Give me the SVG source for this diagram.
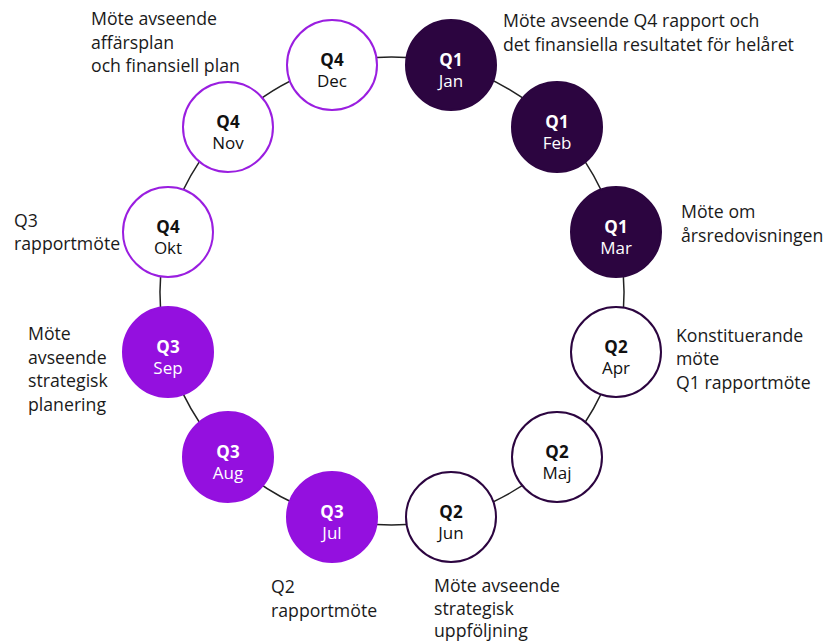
<svg xmlns="http://www.w3.org/2000/svg" width="825" height="642" viewBox="0 0 825 642">
<style>
.ring{fill:none;stroke:#222;stroke-width:1.5}
.dark{fill:#2c0540;stroke:#2c0540;stroke-width:2}
.bright{fill:#9410df;stroke:#9410df;stroke-width:2}
.q2{fill:#fff;stroke:#2c0540;stroke-width:2}
.q4{fill:#fff;stroke:#9a1ee0;stroke-width:2}
text{font-family:"Open Sans",Lato,"Liberation Sans",sans-serif;font-size:17px}
.q{font-weight:bold;text-anchor:middle}
.m{text-anchor:middle}
.w{fill:#fff}
.k{fill:#111}
.lbl{fill:#1a1a1a;font-size:17.7px}
</style>
<g id="connectors">
<path class="ring" d="M332 65 A232 232 0 0 1 451 65"/>
<path class="ring" d="M451 65 A232 232 0 0 1 557 127"/>
<path class="ring" d="M557 127 A232 232 0 0 1 616 232"/>
<path class="ring" d="M616 232 A232 232 0 0 1 616 352"/>
<path class="ring" d="M616 352 A232 232 0 0 1 557 457"/>
<path class="ring" d="M557 457 A232 232 0 0 1 451 517"/>
<path class="ring" d="M451 517 A232 232 0 0 1 332 517"/>
<path class="ring" d="M332 517 A232 232 0 0 1 228 457"/>
<path class="ring" d="M228 457 A232 232 0 0 1 168 352"/>
<path class="ring" d="M168 352 A232 232 0 0 1 168 232"/>
<path class="ring" d="M168 232 A232 232 0 0 1 228 127"/>
<path class="ring" d="M228 127 A232 232 0 0 1 332 65"/>
</g>
<g id="jan"><circle class="dark" cx="451" cy="65" r="45"/><text class="q w" x="451" y="66">Q1</text><text class="m w" x="451" y="87">Jan</text></g>
<g id="feb"><circle class="dark" cx="557" cy="127" r="45"/><text class="q w" x="557" y="128">Q1</text><text class="m w" x="557" y="149">Feb</text></g>
<g id="mar"><circle class="dark" cx="616" cy="232" r="45"/><text class="q w" x="616" y="233">Q1</text><text class="m w" x="616" y="254">Mar</text></g>
<g id="apr"><circle class="q2" cx="616" cy="352" r="45"/><text class="q k" x="616" y="353">Q2</text><text class="m k" x="616" y="374">Apr</text></g>
<g id="maj"><circle class="q2" cx="557" cy="457" r="45"/><text class="q k" x="557" y="458">Q2</text><text class="m k" x="557" y="479">Maj</text></g>
<g id="jun"><circle class="q2" cx="451" cy="517" r="45"/><text class="q k" x="451" y="518">Q2</text><text class="m k" x="451" y="539">Jun</text></g>
<g id="jul"><circle class="bright" cx="332" cy="517" r="45"/><text class="q w" x="332" y="518">Q3</text><text class="m w" x="332" y="539">Jul</text></g>
<g id="aug"><circle class="bright" cx="228" cy="457" r="45"/><text class="q w" x="228" y="458">Q3</text><text class="m w" x="228" y="479">Aug</text></g>
<g id="sep"><circle class="bright" cx="168" cy="352" r="45"/><text class="q w" x="168" y="353">Q3</text><text class="m w" x="168" y="374">Sep</text></g>
<g id="okt"><circle class="q4" cx="168" cy="232" r="45"/><text class="q k" x="168" y="233">Q4</text><text class="m k" x="168" y="254">Okt</text></g>
<g id="nov"><circle class="q4" cx="228" cy="127" r="45"/><text class="q k" x="228" y="128">Q4</text><text class="m k" x="228" y="149">Nov</text></g>
<g id="dec"><circle class="q4" cx="332" cy="65" r="45"/><text class="q k" x="332" y="66">Q4</text><text class="m k" x="332" y="87">Dec</text></g>
<g id="labels">
<text class="lbl"><tspan x="503" y="27">Möte avseende Q4 rapport och</tspan><tspan x="503" y="51">det finansiella resultatet för helåret</tspan></text>
<text class="lbl"><tspan x="91" y="25">Möte avseende</tspan><tspan x="91" y="48.5">affärsplan</tspan><tspan x="91" y="72">och finansiell plan</tspan></text>
<text class="lbl"><tspan x="681" y="218">Möte om</tspan><tspan x="681" y="241.5">årsredovisningen</tspan></text>
<text class="lbl"><tspan x="676" y="341.5">Konstituerande</tspan><tspan x="676" y="365">möte</tspan><tspan x="676" y="388.5">Q1 rapportmöte</tspan></text>
<text class="lbl"><tspan x="14" y="226.5">Q3</tspan><tspan x="14" y="250">rapportmöte</tspan></text>
<text class="lbl"><tspan x="28" y="340">Möte</tspan><tspan x="28" y="363.5">avseende</tspan><tspan x="28" y="387">strategisk</tspan><tspan x="28" y="410.5">planering</tspan></text>
<text class="lbl"><tspan x="271" y="593">Q2</tspan><tspan x="271" y="616.5">rapportmöte</tspan></text>
<text class="lbl"><tspan x="434" y="592">Möte avseende</tspan><tspan x="434" y="615">strategisk</tspan><tspan x="434" y="637">uppföljning</tspan></text>
</g>
</svg>
